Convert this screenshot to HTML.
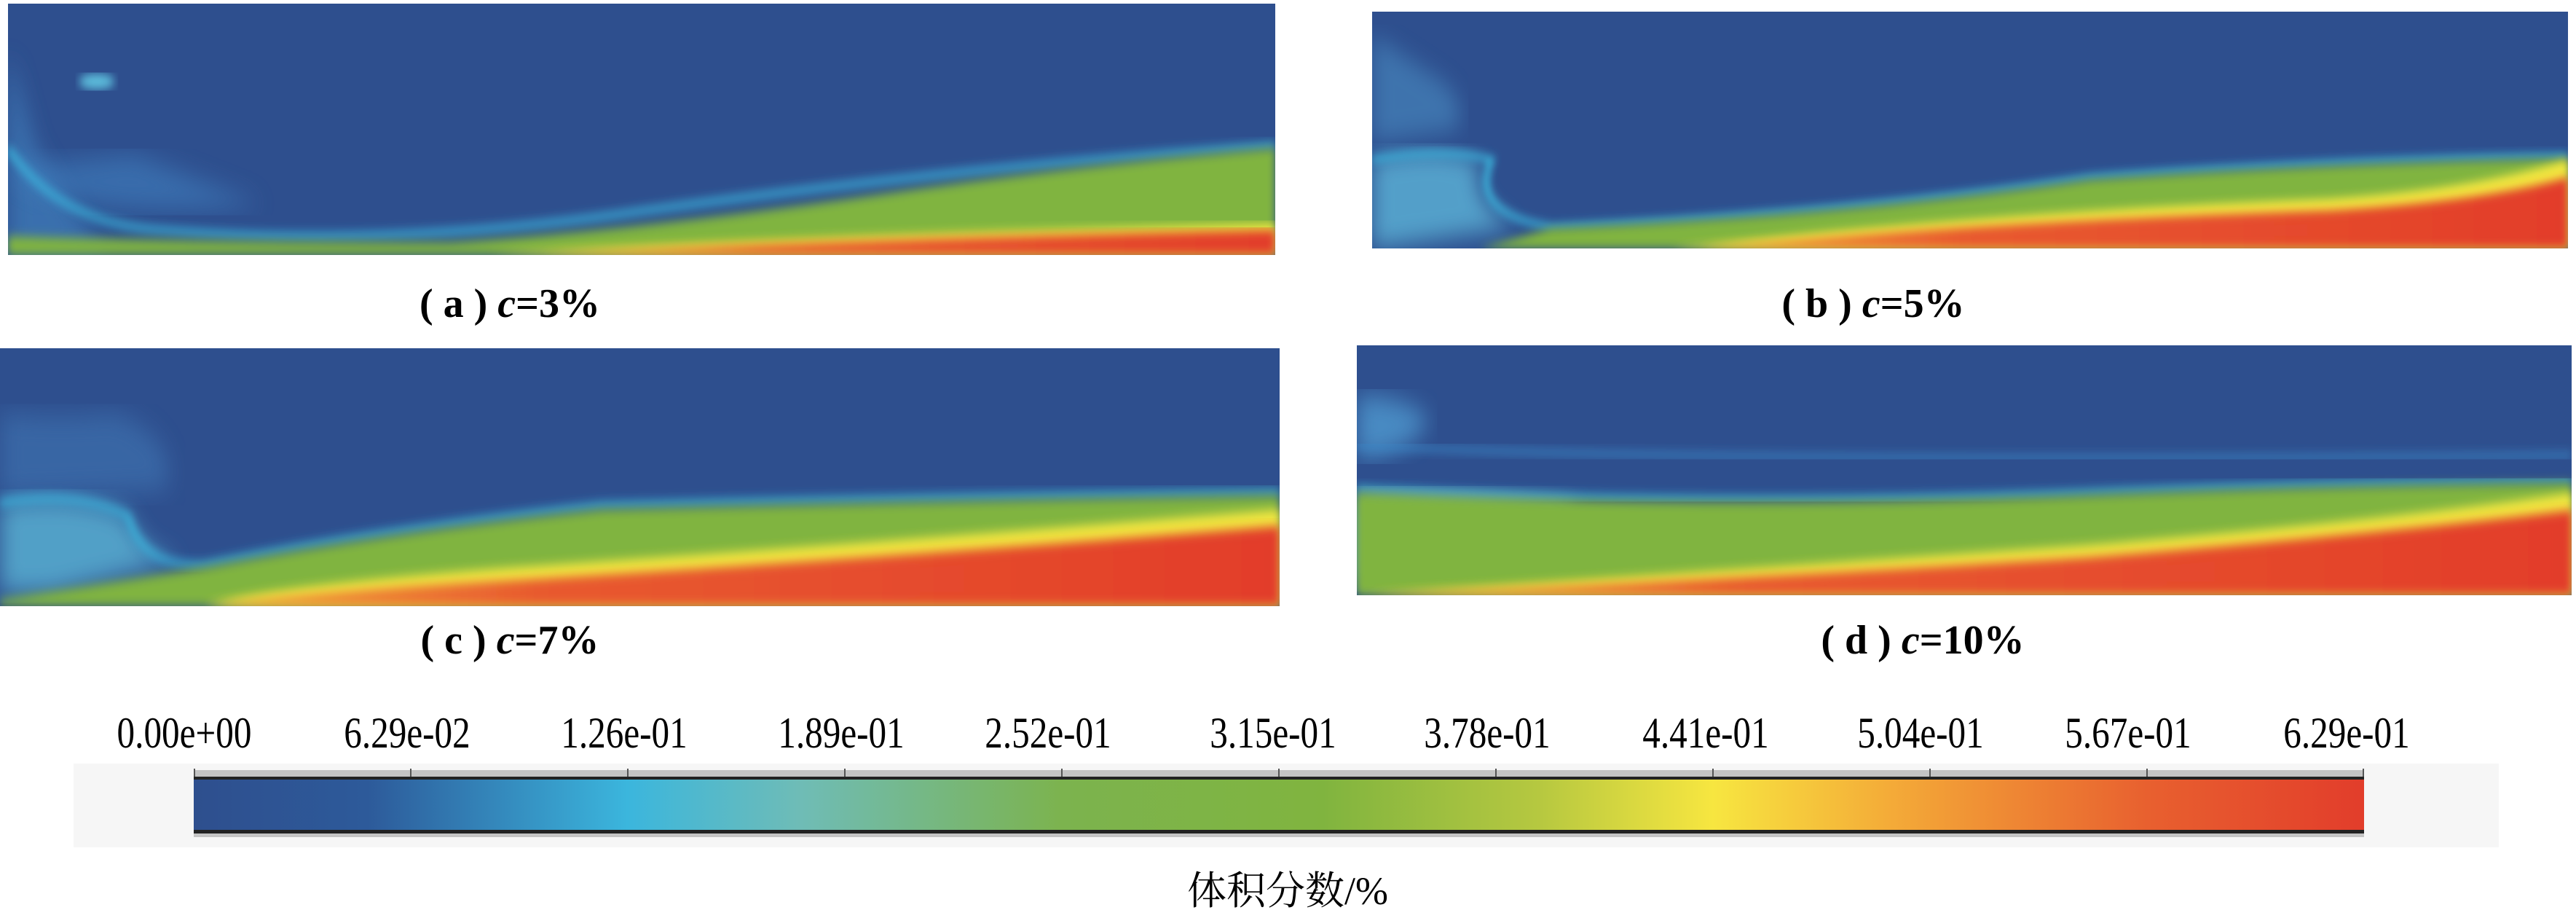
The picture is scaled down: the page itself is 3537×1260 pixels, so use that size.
<!DOCTYPE html>
<html><head><meta charset="utf-8"><style>
html,body{margin:0;padding:0;background:#fff;}
body{width:3537px;height:1260px;position:relative;overflow:hidden;font-family:"Liberation Serif","Noto Serif CJK SC",serif;}
.panel{position:absolute;}
.cap{position:absolute;font-size:56px;font-weight:bold;transform:translateX(-50%);white-space:nowrap;}
.cap i{font-style:italic;}
.tick{position:absolute;top:972px;font-size:60px;transform:translateX(-50%) scaleX(0.82);white-space:nowrap;}
</style></head><body>
<svg width="0" height="0" style="position:absolute">
<defs>
<filter id="bl" x="-10%" y="-10%" width="120%" height="120%"><feGaussianBlur stdDeviation="3 4"/></filter>
<filter id="bl2" x="-10%" y="-10%" width="120%" height="120%"><feGaussianBlur stdDeviation="8 10"/></filter>
<linearGradient id="redg" x1="0" y1="0" x2="1" y2="0"><stop offset="0" stop-color="#f2a33a"/><stop offset="0.3" stop-color="#e85a2e"/><stop offset="1" stop-color="#e23d2b"/></linearGradient>
</defs></svg>

<svg class="panel" style="left:11px;top:5px" width="1740" height="345" viewBox="0 0 1000 200" preserveAspectRatio="none">
<rect width="1000" height="200" fill="#2e4f8e"/>
<path d="M0,40 L0,200 L80,200 Q40,150 20,110 Q10,70 0,40 Z" fill="#3d78b6" filter="url(#bl2)" opacity="0.8"/>
<path d="M0,130 Q40,175 200,160 Q150,140 100,120 Z" fill="#3f80c0" filter="url(#bl2)" opacity="0.6"/>
<ellipse cx="70" cy="62" rx="14" ry="6" fill="#5ec2e0" filter="url(#bl)"/>
<path d="M0,115 Q40,175 120,180 Q300,195 500,165 Q750,130 1000,113" fill="none" stroke="#3bb6dd" stroke-width="5" filter="url(#bl)"/>
<path d="M0,185 Q150,190 350,190 Q500,180 700,150 Q850,128 1000,115 L1000,200 L0,200 Z" fill="#80b43f" filter="url(#bl)"/>
<path d="M380,200 Q600,185 1000,175 L1000,200 Z" fill="#f2e640" filter="url(#bl)"/>
<path d="M420,200 Q650,188 1000,180 L1000,200 Z" fill="url(#redg)" filter="url(#bl)"/>
</svg>

<svg class="panel" style="left:1884px;top:16px" width="1642" height="325" viewBox="0 0 1000 200" preserveAspectRatio="none">
<rect width="1000" height="200" fill="#2e4f8e"/>
<path d="M0,20 Q30,40 60,60 Q80,80 70,100 L0,110 Z" fill="#4a8cc2" filter="url(#bl2)" opacity="0.6"/>
<path d="M0,125 Q60,112 90,128 Q80,160 120,182 L0,200 Z" fill="#5aaed4" filter="url(#bl2)" opacity="0.85"/>
<path d="M0,125 Q60,115 100,125 Q80,170 150,182 Q400,170 600,140 Q800,125 1000,122" fill="none" stroke="#3bb6dd" stroke-width="5" filter="url(#bl)"/>
<path d="M90,200 L150,183 Q400,172 600,142 Q800,128 1000,124 L1000,200 Z" fill="#80b43f" filter="url(#bl)"/>
<path d="M250,200 Q500,170 800,158 Q920,150 1000,125 L1000,200 Z" fill="#f2e640" filter="url(#bl)"/>
<path d="M275,200 Q500,178 800,168 Q930,160 1000,140 L1000,200 Z" fill="url(#redg)" filter="url(#bl)"/>
</svg>

<svg class="panel" style="left:0px;top:478px" width="1757" height="354" viewBox="0 0 1000 200" preserveAspectRatio="none">
<rect width="1000" height="200" fill="#2e4f8e"/>
<path d="M0,50 Q50,55 90,50 Q140,70 130,110 L0,115 Z" fill="#3f76b4" filter="url(#bl2)" opacity="0.6"/>
<path d="M0,120 Q60,110 100,130 Q110,160 140,165 L40,190 L0,190 Z" fill="#58afd2" filter="url(#bl2)" opacity="0.85"/>
<path d="M0,120 Q60,110 100,130 Q110,170 160,168 Q300,140 470,122 Q750,115 1000,112" fill="none" stroke="#3bb6dd" stroke-width="5" filter="url(#bl)"/>
<path d="M0,195 L160,170 Q300,143 470,125 Q750,118 1000,114 L1000,200 L0,200 Z" fill="#80b43f" filter="url(#bl)"/>
<path d="M160,200 Q200,185 400,170 Q700,150 1000,125 L1000,200 Z" fill="#f2e640" filter="url(#bl)"/>
<path d="M170,200 Q220,190 400,180 Q700,162 1000,138 L1000,200 Z" fill="url(#redg)" filter="url(#bl)"/>
</svg>

<svg class="panel" style="left:1863px;top:474px" width="1668" height="343" viewBox="0 0 1000 200" preserveAspectRatio="none">
<rect width="1000" height="200" fill="#2e4f8e"/>
<path d="M0,40 Q40,40 60,60 Q40,90 0,90 Z" fill="#4f9ad0" filter="url(#bl2)" opacity="0.8"/>
<path d="M0,80 Q300,95 1000,88" fill="none" stroke="#3b86c6" stroke-width="4" filter="url(#bl)"/>
<path d="M0,115 Q300,130 600,118 Q800,110 1000,108" fill="none" stroke="#3bb6dd" stroke-width="5" filter="url(#bl)"/>
<path d="M0,120 Q100,118 180,130 L160,185 L0,190 Z" fill="#6ab5c4" filter="url(#bl2)"/>
<path d="M0,118 Q300,132 600,120 Q800,112 1000,110 L1000,200 L0,200 Z" fill="#80b43f" filter="url(#bl)"/>
<path d="M0,200 Q300,180 600,160 Q850,140 1000,118 L1000,200 Z" fill="#f2e640" filter="url(#bl)"/>
<path d="M10,200 Q300,188 600,170 Q850,150 1000,132 L1000,200 Z" fill="url(#redg)" filter="url(#bl)"/>
</svg>

<div class="cap" style="left:700px;top:385px">( a ) <i>c</i>=3%</div>
<div class="cap" style="left:2572px;top:385px">( b ) <i>c</i>=5%</div>
<div class="cap" style="left:700px;top:847px">( c ) <i>c</i>=7%</div>
<div class="cap" style="left:2640px;top:847px">( d ) <i>c</i>=10%</div>

<div style="position:absolute;left:101px;top:1048px;width:3330px;height:115px;background:#f6f6f6"></div>
<div id="ticks"></div>
<svg id="cbar" style="position:absolute;left:266px;top:1055px" width="2980" height="95">
<defs><linearGradient id="cg" x1="0" x2="1" y1="0" y2="0">
<stop offset="0" stop-color="#2e4f8e"/><stop offset="0.08" stop-color="#2d5a9a"/><stop offset="0.2" stop-color="#3bb6dd"/><stop offset="0.28" stop-color="#6fbcb6"/><stop offset="0.4" stop-color="#7cb34e"/><stop offset="0.52" stop-color="#80b43f"/><stop offset="0.62" stop-color="#b6c840"/><stop offset="0.7" stop-color="#f7e640"/><stop offset="0.78" stop-color="#f4ac38"/><stop offset="0.9" stop-color="#e8602f"/><stop offset="1" stop-color="#e23d2b"/></linearGradient></defs>
<rect x="0" y="2" width="2980" height="92" fill="#c4c4c4"/>
<rect x="0" y="11" width="2980" height="78" fill="#222"/>
<rect x="0" y="15" width="2980" height="69" fill="url(#cg)"/>
<g id="tickmarks"></g>
</svg>
<div style="position:absolute;left:1768px;top:1180px;transform:translateX(-50%);font-size:54px;font-family:'Liberation Serif','Noto Serif CJK SC',serif;">体积分数/%</div>
<script>
const tickLabels=["0.00e+00","6.29e-02","1.26e-01","1.89e-01","2.52e-01","3.15e-01","3.78e-01","4.41e-01","5.04e-01","5.67e-01","6.29e-01"];
const labelX=[112,248,380,512,638,775,905,1038,1169,1295,1428];
const tk=document.getElementById('ticks');
tickLabels.forEach((t,i)=>{
 const d=document.createElement('div');
 d.className='tick';
 
 
 d.style.left=(labelX[i]*2.256)+'px';
 d.textContent=t;
 tk.appendChild(d);
 const ln=document.createElementNS('http://www.w3.org/2000/svg','line');
 
 
 const x=2980*i/(tickLabels.length-1);
 ln.setAttribute('x1',Math.min(2979,Math.max(1,x)));ln.setAttribute('x2',Math.min(2979,Math.max(1,x)));
 ln.setAttribute('y1',0);ln.setAttribute('y2',11);ln.setAttribute('stroke','#555');ln.setAttribute('stroke-width',2);
 document.getElementById('tickmarks').appendChild(ln);
});
</script>
</body></html>
